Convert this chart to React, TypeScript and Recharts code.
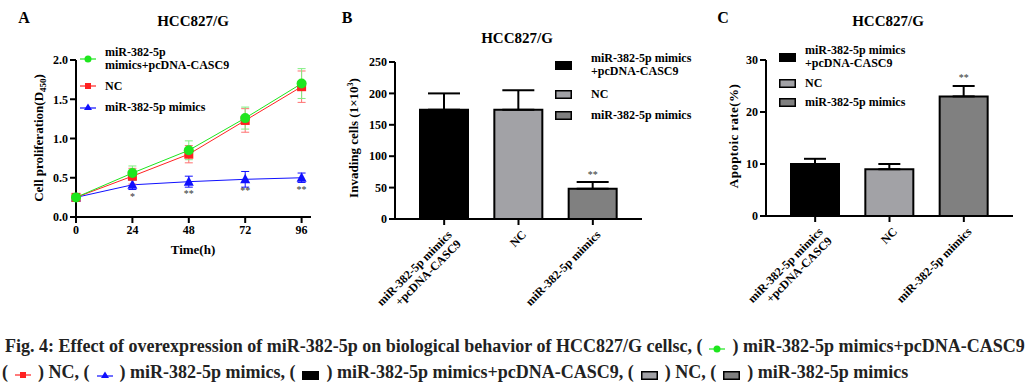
import { LineChart, Line, BarChart, Bar, Cell, XAxis, YAxis, ErrorBar, LabelList, Label } from "recharts";

const SERIF = '"Liberation Serif", "Times New Roman", serif';

// panel A - proliferation over time
const HOURS = [0, 24, 48, 72, 96];
const CASC9_VALUES = [0.25, 0.56, 0.85, 1.26, 1.7];
const CASC9_ERR = [0.02, 0.09, 0.12, 0.14, 0.19];
const NC_VALUES = [0.25, 0.52, 0.8, 1.23, 1.66];
const NC_ERR = [0.02, 0.1, 0.11, 0.15, 0.2];
const MIMICS_VALUES = [0.25, 0.41, 0.45, 0.48, 0.5];
const MIMICS_ERR = [0.02, 0.06, 0.07, 0.1, 0.06];
const MIMICS_STARS = ["", "*", "**", "**", "**"];
const PROLIF_TICKS = [0, 0.5, 1, 1.5, 2];

// panels B and C - bar groups
const GROUPS = ["miR-382-5p mimics\n+pcDNA-CASC9", "NC", "miR-382-5p mimics"];
const INVASION = [174, 174, 48];
const INVASION_ERR = [26, 31, 11];
const INVASION_STARS = ["", "", "**"];
const INVASION_TICKS = [0, 50, 100, 150, 200, 250];
const APOPTOSIS = [10, 9, 23];
const APOPTOSIS_ERR = [1, 1, 2];
const APOPTOSIS_STARS = ["", "", "**"];
const APOPTOSIS_TICKS = [0, 10, 20, 30];

const BAR_COLORS = ["#000000", "#a2a2a6", "#808080"];
const GREEN = "#1ee61e";
const RED = "#ff2222";
const BLUE = "#1010ff";

const lineData = HOURS.map((h, i) => ({
  hour: h,
  casc9: CASC9_VALUES[i],
  casc9Err: CASC9_ERR[i],
  nc: NC_VALUES[i],
  ncErr: NC_ERR[i],
  mimics: MIMICS_VALUES[i],
  mimicsErr: MIMICS_ERR[i],
  star: MIMICS_STARS[i],
}));

const invasionData = GROUPS.map((g, i) => ({
  group: g,
  value: INVASION[i],
  err: [0, INVASION_ERR[i]],
  star: INVASION_STARS[i],
}));

const apoptosisData = GROUPS.map((g, i) => ({
  group: g,
  value: APOPTOSIS[i],
  err: [0, APOPTOSIS_ERR[i]],
  star: APOPTOSIS_STARS[i],
}));

const tickStyle = { fill: "#000", fontSize: 12, fontWeight: "bold", fontFamily: SERIF };
const axisStroke = { stroke: "#000", strokeWidth: 2 };

const circleDot = (p: any) => <circle key={p.key} cx={p.cx} cy={p.cy} r={5} fill={GREEN} />;
const squareDot = (p: any) => <rect key={p.key} x={p.cx - 4.5} y={p.cy - 4.5} width={9} height={9} fill={RED} />;
const triangleDot = (p: any) => (
  <polygon key={p.key} points={`${p.cx},${p.cy - 5.5} ${p.cx - 5},${p.cy + 4} ${p.cx + 5},${p.cy + 4}`} fill={BLUE} />
);

function SlantTick({ x, y, payload }: any) {
  const lines = String(payload.value).split("\n");
  return (
    <g transform={`translate(${x},${y}) rotate(-45)`}>
      <text textAnchor="end" fontFamily={SERIF} fontWeight="bold" fontSize={12} fill="#000">
        {lines.map((l, i) => (
          <tspan key={i} x={0} dy={i === 0 ? 12 : 13}>
            {l}
          </tspan>
        ))}
      </text>
    </g>
  );
}

function Swatch({ kind }: { kind: string }) {
  if (kind === "green")
    return (
      <svg width={16} height={10}>
        <line x1={0} y1={5} x2={16} y2={5} stroke={GREEN} strokeWidth={1.2} />
        <circle cx={8} cy={5} r={3.5} fill={GREEN} />
      </svg>
    );
  if (kind === "red")
    return (
      <svg width={16} height={10}>
        <line x1={0} y1={5} x2={16} y2={5} stroke={RED} strokeWidth={1.2} />
        <rect x={5} y={2} width={6} height={6} fill={RED} />
      </svg>
    );
  if (kind === "blue")
    return (
      <svg width={16} height={10}>
        <line x1={0} y1={6} x2={16} y2={6} stroke={BLUE} strokeWidth={1.2} />
        <polygon points="8,1.5 4,8 12,8" fill={BLUE} />
      </svg>
    );
  const fill = kind === "black" ? BAR_COLORS[0] : kind === "nc" ? BAR_COLORS[1] : BAR_COLORS[2];
  return (
    <svg width={17} height={9}>
      <rect x={0.75} y={0.75} width={15.5} height={7.5} fill={fill} stroke="#000" strokeWidth={1.5} />
    </svg>
  );
}

function LegendRow({ left, cy, kind, lines, gap }: { left: number; cy: number; kind: string; lines: string[]; gap: number }) {
  return (
    <div
      style={{
        position: "absolute",
        left,
        top: cy - lines.length * 6.5,
        display: "flex",
        alignItems: "center",
        fontFamily: SERIF,
        fontWeight: "bold",
        fontSize: 12,
        lineHeight: "13px",
        whiteSpace: "nowrap",
      }}
    >
      <Swatch kind={kind} />
      <div style={{ marginLeft: gap }}>
        {lines.map((l, i) => (
          <div key={i}>{l}</div>
        ))}
      </div>
    </div>
  );
}

function Title({ x, y, text, size }: { x: number; y: number; text: string; size: number }) {
  return (
    <div
      style={{
        position: "absolute",
        left: x - 100,
        top: y - size * 0.6,
        width: 200,
        textAlign: "center",
        fontFamily: SERIF,
        fontWeight: "bold",
        fontSize: size,
        lineHeight: `${size * 1.2}px`,
      }}
    >
      {text}
    </div>
  );
}

function Icon({ kind }: { kind: string }) {
  return (
    <span style={{ display: "inline-block", margin: "0 7px", verticalAlign: "middle" }}>
      <Swatch kind={kind} />
    </span>
  );
}

export default function App() {
  return (
    <div style={{ position: "absolute", left: 0, top: 0, width: 1033, height: 387, background: "#fff", overflow: "hidden" }}>
      {/* A: proliferation curve */}
      <div style={{ position: "absolute", left: 0, top: 0 }}>
        <LineChart width={340} height={300} data={lineData} margin={{ top: 60, right: 29, bottom: 43, left: 0 }}>
          <XAxis
            type="number"
            dataKey="hour"
            domain={[0, 100]}
            ticks={HOURS}
            tick={tickStyle}
            axisLine={axisStroke}
            tickLine={axisStroke}
            tickSize={6}
            height={40}
          >
            <Label
              content={() => (
                <text x={193} y={254} textAnchor="middle" fontFamily={SERIF} fontWeight="bold" fontSize={13}>
                  Time(h)
                </text>
              )}
            />
          </XAxis>
          <YAxis
            domain={[0, 2]}
            ticks={PROLIF_TICKS}
            tickFormatter={(v: number) => v.toFixed(1)}
            tick={tickStyle}
            axisLine={axisStroke}
            tickLine={axisStroke}
            tickSize={6}
            width={76}
          >
            <Label
              content={() => (
                <text transform="translate(43,138) rotate(-90)" textAnchor="middle" fontFamily={SERIF} fontWeight="bold" fontSize={13}>
                  Cell proliferation(D
                  <tspan fontSize={9} dy={3}>
                    450
                  </tspan>
                  <tspan dy={-3}>)</tspan>
                </text>
              )}
            />
          </YAxis>
          <Line dataKey="mimics" stroke={BLUE} strokeWidth={1} dot={triangleDot} isAnimationActive={false}>
            <ErrorBar dataKey="mimicsErr" direction="y" width={4} stroke={BLUE} strokeWidth={1} />
            <LabelList
              dataKey="star"
              content={(p: any) =>
                p.value ? (
                  <text x={p.x} y={p.y + 15} textAnchor="middle" fontFamily={SERIF} fontSize={10} fill="#333">
                    {p.value}
                  </text>
                ) : null
              }
            />
          </Line>
          <Line dataKey="nc" stroke={RED} strokeWidth={1} dot={squareDot} isAnimationActive={false}>
            <ErrorBar dataKey="ncErr" direction="y" width={4} stroke="#ff7070" strokeWidth={1} />
          </Line>
          <Line dataKey="casc9" stroke={GREEN} strokeWidth={1} dot={circleDot} isAnimationActive={false}>
            <ErrorBar dataKey="casc9Err" direction="y" width={4} stroke="#80ee80" strokeWidth={1} />
          </Line>
        </LineChart>
      </div>

      {/* B: invasion */}
      <div style={{ position: "absolute", left: 340, top: 0 }}>
        <BarChart width={340} height={320} data={invasionData} margin={{ top: 62, right: 38, bottom: 6, left: 0 }}>
          <XAxis
            dataKey="group"
            padding={{ left: 12, right: 12 }}
            interval={0}
            tick={<SlantTick />}
            axisLine={axisStroke}
            tickLine={axisStroke}
            tickSize={6}
            height={95}
          />
          <YAxis
            domain={[0, 250]}
            ticks={INVASION_TICKS}
            tick={tickStyle}
            axisLine={axisStroke}
            tickLine={axisStroke}
            tickSize={6}
            width={55}
          >
            <Label
              content={() => (
                <text transform="translate(18,138) rotate(-90)" textAnchor="middle" fontFamily={SERIF} fontWeight="bold" fontSize={13}>
                  Invading cells (1×10
                  <tspan fontSize={8} dy={-5}>
                    3
                  </tspan>
                  <tspan dy={5}>)</tspan>
                </text>
              )}
            />
          </YAxis>
          <Bar dataKey="value" barSize={48} stroke="#000" strokeWidth={2} isAnimationActive={false}>
            {invasionData.map((d, i) => (
              <Cell key={d.group} fill={BAR_COLORS[i]} stroke="#000" strokeWidth={2} />
            ))}
            <ErrorBar dataKey="err" direction="y" width={16} stroke="#000" strokeWidth={2} />
            <LabelList
              dataKey="star"
              content={(p: any) =>
                p.value ? (
                  <text x={p.x + p.width / 2} y={p.y - 11} textAnchor="middle" fontFamily={SERIF} fontSize={10} fill="#333">
                    {p.value}
                  </text>
                ) : null
              }
            />
          </Bar>
        </BarChart>
      </div>

      {/* C: apoptosis */}
      <div style={{ position: "absolute", left: 690, top: 0 }}>
        <BarChart width={343} height={320} data={apoptosisData} margin={{ top: 60, right: 20, bottom: 9, left: 0 }}>
          <XAxis
            dataKey="group"
            padding={{ left: 12, right: 12 }}
            interval={0}
            tick={<SlantTick />}
            axisLine={axisStroke}
            tickLine={axisStroke}
            tickSize={6}
            height={95}
          />
          <YAxis
            domain={[0, 30]}
            ticks={APOPTOSIS_TICKS}
            tick={tickStyle}
            axisLine={axisStroke}
            tickLine={axisStroke}
            tickSize={6}
            width={76}
          >
            <Label
              content={() => (
                <text
                  transform="translate(48,136) rotate(-90)"
                  textAnchor="middle"
                  fontFamily={SERIF}
                  fontWeight="bold"
                  fontSize={13}
                  letterSpacing={0.4}
                >
                  Apoptoic rate(%)
                </text>
              )}
            />
          </YAxis>
          <Bar dataKey="value" barSize={48} stroke="#000" strokeWidth={2} isAnimationActive={false}>
            {apoptosisData.map((d, i) => (
              <Cell key={d.group} fill={BAR_COLORS[i]} stroke="#000" strokeWidth={2} />
            ))}
            <ErrorBar dataKey="err" direction="y" width={11} stroke="#000" strokeWidth={2} />
            <LabelList
              dataKey="star"
              content={(p: any) =>
                p.value ? (
                  <text x={p.x + p.width / 2} y={p.y - 15} textAnchor="middle" fontFamily={SERIF} fontSize={10} fill="#333">
                    {p.value}
                  </text>
                ) : null
              }
            />
          </Bar>
        </BarChart>
      </div>

      {/* panel letters and titles */}
      <Title x={24} y={18} text="A" size={16} />
      <Title x={347} y={18} text="B" size={16} />
      <Title x={723} y={18} text="C" size={16} />
      <Title x={193} y={21} text="HCC827/G" size={15} />
      <Title x={517} y={38} text="HCC827/G" size={15} />
      <Title x={888} y={21} text="HCC827/G" size={15} />

      {/* legends */}
      <LegendRow left={80} cy={59} kind="green" lines={["miR-382-5p", "mimics+pcDNA-CASC9"]} gap={9} />
      <LegendRow left={80} cy={86} kind="red" lines={["NC"]} gap={9} />
      <LegendRow left={80} cy={107} kind="blue" lines={["miR-382-5p mimics"]} gap={9} />

      <LegendRow left={555} cy={65} kind="black" lines={["miR-382-5p mimics", "+pcDNA-CASC9"]} gap={19} />
      <LegendRow left={555} cy={94} kind="nc" lines={["NC"]} gap={19} />
      <LegendRow left={555} cy={115} kind="mimics" lines={["miR-382-5p mimics"]} gap={19} />

      <LegendRow left={779} cy={57} kind="black" lines={["miR-382-5p mimics", "+pcDNA-CASC9"]} gap={9} />
      <LegendRow left={779} cy={83} kind="nc" lines={["NC"]} gap={9} />
      <LegendRow left={779} cy={102} kind="mimics" lines={["miR-382-5p mimics"]} gap={9} />

      {/* caption */}
      <div
        style={{
          position: "absolute",
          left: 2,
          top: 334,
          width: 1031,
          fontFamily: SERIF,
          fontWeight: "bold",
          fontSize: 18,
          lineHeight: "24px",
          color: "#222",
          whiteSpace: "nowrap",
        }}
      >
        <div style={{ paddingLeft: 3 }}>
          Fig. 4: Effect of overexpression of miR-382-5p on biological behavior of HCC827/G cellsc, (<Icon kind="green" />) miR-382-5p
          mimics+pcDNA-CASC9
        </div>
        <div>
          (<Icon kind="red" />) NC, (<Icon kind="blue" />) miR-382-5p mimics, (<Icon kind="black" />) miR-382-5p mimics+pcDNA-CASC9, (
          <Icon kind="nc" />) NC, (<Icon kind="mimics" />) miR-382-5p mimics
        </div>
      </div>
    </div>
  );
}
